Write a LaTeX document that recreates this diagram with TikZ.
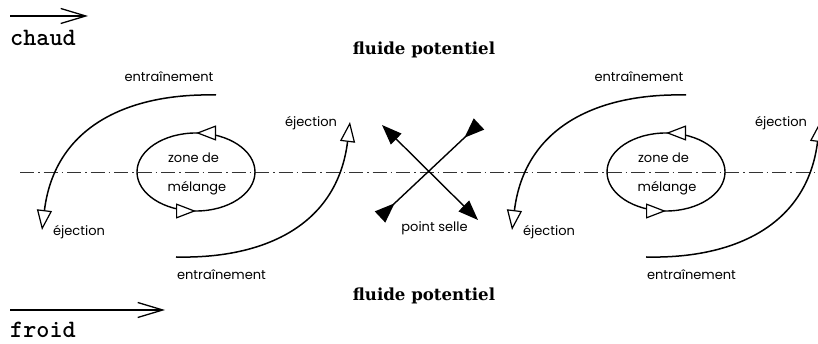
\documentclass[tikz,border=0pt]{standalone}
\usepackage{fontspec}
\newfontfamily\labfont{Poppins}
\newfontfamily\titrefont{DejaVu Serif}
\usetikzlibrary{arrows.meta,decorations.markings}

\colorlet{axeCol}{black!80}

\tikzset{
  opentri/.tip={Triangle[length=20pt,width=15pt,fill=white,line width=1.2pt]},
  fulltri/.tip={Triangle[length=20pt,width=15pt]},
  barb/.tip={Straight Barb[length=25pt,width=15pt,line width=1.3pt]},
  lab/.style={font=\labfont\fontsize{13}{14}\selectfont, inner sep=0pt, anchor=base},
  titre/.style={font=\titrefont\bfseries\fontsize{16.6}{18}\selectfont, inner sep=0pt, anchor=base},
  sens/.style={font=\ttfamily\bfseries\fontsize{25}{27}\selectfont, inner sep=0pt, anchor=base west},
  courant/.style={line width=1.5pt, -opentri},
  vortex/.style={line width=1.4pt, postaction={decorate},
    decoration={markings,
      mark=at position 0.25 with {\arrow{opentri}},
      mark=at position 0.75 with {\arrow{opentri}}}}
}

\begin{document}
\begin{tikzpicture}[x=1pt,y=1pt]
        \useasboundingbox (0,0) rectangle (818,344);
        \clip (0,0) rectangle (818,344);

        \draw[axeCol, line width=0.8pt, dash pattern=on 14pt off 4pt on 1.5pt off 4pt]
              (20,172) -- (818,172);

        \coordinate (chaudA) at (10,328);
        \coordinate (chaudB) at (88,328);
        \coordinate (froidA) at (10,34);
        \coordinate (froidB) at (165,34);
        \draw[line width=1.3pt, -barb] (chaudA) -- (chaudB);
        \draw[line width=1.3pt, -barb] (froidA) -- (froidB);
        \node[sens] (chaud) at (10,298) {chaud};
        \node[sens] (froid) at (10,6) {froid};

        \node[titre] (fpHaut) at (424,289) {fluide potentiel};
        \node[titre] (fpBas) at (424,43) {fluide potentiel};

        \foreach \i/\dx in {1/0,2/470}{
          \begin{scope}[xshift=\dx]
            \draw[vortex] (196,172) ellipse[x radius=59, y radius=39];
            \node[lab] (zone\i) at (193.5,181) {zone de};
            \node[lab] (mel\i) at (197,152) {mélange};
            \draw[courant] (216,249) .. controls (130,251) and (55,219) .. (42,114);
            \draw[courant] (176,87) .. controls (262,85) and (337,117) .. (350,222);
            \node[lab] (entrH\i) at (169,262) {entraînement};
            \node[lab] (entrB\i) at (221.5,64) {entraînement};
            \node[lab] (ejecB\i) at (79,108) {éjection};
            \node[lab] (ejecH\i) at (311,217) {éjection};
          \end{scope}
        }

        \coordinate (S) at (431,172);
        \coordinate (S1) at (382,219);
        \coordinate (S2) at (478,124);
        \coordinate (S3) at (380,127);
        \coordinate (S4) at (479,220);
        \draw[line width=1.4pt, fulltri-fulltri] (S1) -- (S2);
        \draw[line width=1.4pt, {fulltri[reversed]}-{fulltri[reversed]}] (S3) -- (S4);
        \node[lab] (selle) at (434.5,112) {point selle};
      \end{tikzpicture}
\end{document}
